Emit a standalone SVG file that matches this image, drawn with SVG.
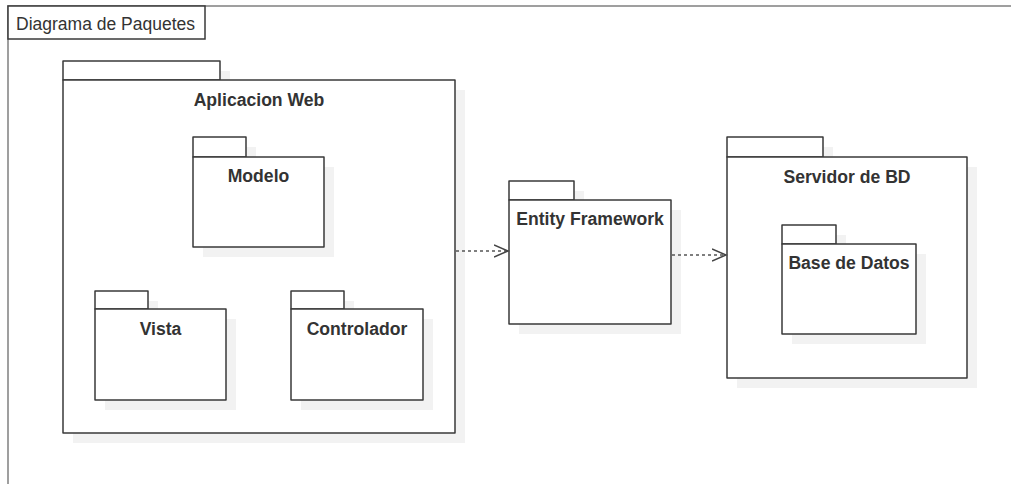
<svg xmlns="http://www.w3.org/2000/svg" width="1011" height="484" viewBox="0 0 1011 484">
<style>
.shadow{fill:#f2f2f2;stroke:none}
.pkg{fill:#ffffff;stroke:#3a3a3a;stroke-width:1.5;stroke-linejoin:round}
.title{font-family:"Liberation Sans",Arial,sans-serif;font-size:17.6px;font-weight:bold;fill:#333333;text-anchor:middle}
.frame{fill:none;stroke:#808080;stroke-width:1.5}
.flabel{font-family:"Liberation Sans",Arial,sans-serif;font-size:17.5px;fill:#333333}
.dep{fill:none;stroke:#555555;stroke-width:1.5;stroke-dasharray:3 3}
</style>
<defs>
<marker id="open" markerUnits="userSpaceOnUse" markerWidth="16" markerHeight="14" refX="14" refY="7" orient="auto">
<path d="M0,1 L14,7 L0,13" fill="none" stroke="#444444" stroke-width="1.5"/>
</marker>
</defs>
<rect width="1011" height="484" fill="#ffffff"/>
<g id="frame">
<path class="frame" d="M8,484 L8,6 L1011,6"/>
<rect x="8" y="6" width="197" height="33" fill="#ffffff" stroke="#3a3a3a" stroke-width="1.5"/>
<text class="flabel" x="16" y="30">Diagrama de Paquetes</text>
</g>
<g id="aplicacion-web">
<rect class="shadow" x="73" y="71" width="157" height="20"/>
<rect class="shadow" x="73" y="90" width="392" height="353"/>
<rect class="pkg" x="63" y="61" width="157" height="19"/>
<rect class="pkg" x="63" y="80" width="392" height="353"/>
<text class="title" x="259" y="106">Aplicacion Web</text>
</g>
<g id="modelo">
<rect class="shadow" x="203" y="147" width="53" height="20"/>
<rect class="shadow" x="203" y="167" width="131" height="90"/>
<rect class="pkg" x="193" y="137" width="53" height="20"/>
<rect class="pkg" x="193" y="157" width="131" height="90"/>
<text class="title" x="258.5" y="182">Modelo</text>
</g>
<g id="vista">
<rect class="shadow" x="105" y="301" width="53" height="18"/>
<rect class="shadow" x="105" y="319" width="131" height="91"/>
<rect class="pkg" x="95" y="291" width="53" height="18"/>
<rect class="pkg" x="95" y="309" width="131" height="91"/>
<text class="title" x="160.5" y="335">Vista</text>
</g>
<g id="controlador">
<rect class="shadow" x="301" y="301" width="53" height="18"/>
<rect class="shadow" x="301" y="319" width="132" height="91"/>
<rect class="pkg" x="291" y="291" width="53" height="18"/>
<rect class="pkg" x="291" y="309" width="132" height="91"/>
<text class="title" x="357" y="335">Controlador</text>
</g>
<g id="entity-framework">
<rect class="shadow" x="519" y="191" width="65" height="19"/>
<rect class="shadow" x="519" y="210" width="162" height="124"/>
<rect class="pkg" x="509" y="181" width="65" height="19"/>
<rect class="pkg" x="509" y="200" width="162" height="124"/>
<text class="title" x="590" y="225">Entity Framework</text>
</g>
<g id="servidor-bd">
<rect class="shadow" x="737" y="147" width="96" height="20"/>
<rect class="shadow" x="737" y="167" width="240" height="221"/>
<rect class="pkg" x="727" y="137" width="96" height="20"/>
<rect class="pkg" x="727" y="157" width="240" height="221"/>
<text class="title" x="847" y="183">Servidor de BD</text>
</g>
<g id="base-datos">
<rect class="shadow" x="792" y="235" width="54" height="19"/>
<rect class="shadow" x="792" y="254" width="134" height="90"/>
<rect class="pkg" x="782" y="225" width="54" height="19"/>
<rect class="pkg" x="782" y="244" width="134" height="90"/>
<text class="title" x="849" y="269">Base de Datos</text>
</g>
<g id="connectors">
<path class="dep" d="M456,251 L508,251" marker-end="url(#open)"/>
<path class="dep" d="M672,255 L726,255" marker-end="url(#open)"/>
</g>
</svg>
